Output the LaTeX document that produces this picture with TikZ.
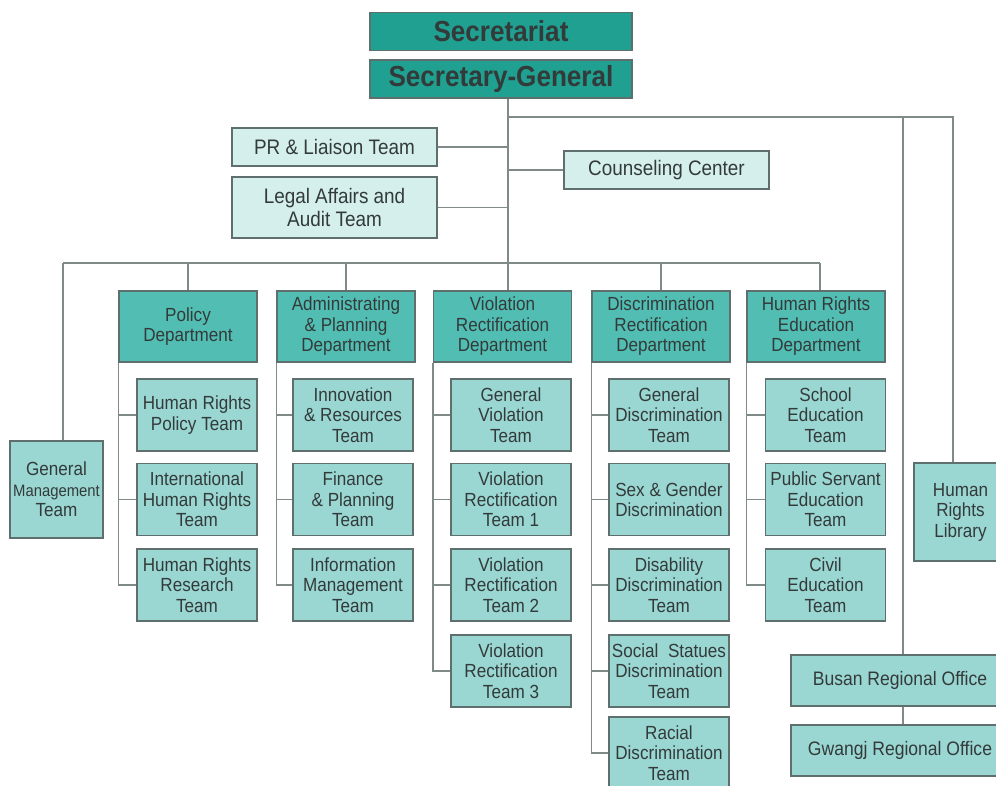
\documentclass[tikz,border=0pt]{standalone}
\usepackage{fontspec}
\setmainfont{Liberation Sans}[FakeStretch=0.9]
\definecolor{darkc}{HTML}{1FA091}
\definecolor{deptc}{HTML}{52BDB3}
\definecolor{teamc}{HTML}{9AD6D2}
\definecolor{lightc}{HTML}{D5EFEC}
\definecolor{bordc}{HTML}{5F6F6E}
\definecolor{linec}{HTML}{7F8A89}
\definecolor{txtc}{HTML}{333B3A}
\tikzset{
 box/.style={draw=bordc, line width=1.2pt, inner sep=0pt, align=center, text=txtc, font=\fontsize{19}{20.5}\selectfont},
 topbox/.style={box, fill=darkc, minimum width=262pt, minimum height=38pt, font=\fontsize{29}{32}\selectfont\bfseries},
 lightbox/.style={box, fill=lightc, minimum width=205pt, font=\fontsize{21}{23}\selectfont},
 deptbox/.style={box, fill=deptc, minimum width=138pt, minimum height=71pt},
 teambox/.style={box, fill=teamc, minimum width=120pt, minimum height=72pt},
 sidebox/.style={box, fill=teamc, minimum width=93pt, minimum height=97pt},
 officebox/.style={box, fill=teamc, minimum width=218pt, minimum height=51pt, font=\fontsize{19.5}{22}\selectfont},
 link/.style={draw=linec, line width=1.5pt},
}
\begin{document}
\begin{tikzpicture}[x=1pt,y=-1pt]
\useasboundingbox (0,0) rectangle (996,786);
\fill[white] (0,0) rectangle (996,786);
\clip (0,0) rectangle (996,786);

% top
\node[topbox] (sec) at (501,31.5) {Secretariat};
\node[topbox] (sg) at (501,79) {Secretary-General};
\node[lightbox, minimum height=38pt] (pr) at (334.5,147) {PR \& Liaison Team};
\node[lightbox, minimum height=61pt] (legal) at (334.5,207.5) {Legal Affairs and\\Audit Team};
\node[lightbox, minimum height=38pt] (cc) at (666.5,170) {Counseling Center};

% departments
\node[sidebox] (gm) at (56.5,489.5) {General\\{\fontsize{16.5}{20.5}\selectfont Management}\\Team};
\node[deptbox] (pol) at (188,326.5) {Policy\\Department};
\node[deptbox] (adm) at (346,326.5) {Administrating\\\& Planning\\Department};
\node[deptbox] (vio) at (502.5,326.5) {Violation\\Rectification\\Department};
\node[deptbox] (dis) at (661,326.5) {Discrimination\\Rectification\\Department};
\node[deptbox] (edu) at (816,326.5) {Human Rights\\Education\\Department};

% teams
\node[teambox] (p1) at (197,415) {Human Rights\\Policy Team};
\node[teambox] (p2) at (197,499.5) {International\\Human Rights\\Team};
\node[teambox] (p3) at (197,585) {Human Rights\\Research\\Team};

\node[teambox] (a1) at (353,415) {Innovation\\\& Resources\\Team};
\node[teambox] (a2) at (353,499.5) {Finance\\\& Planning\\Team};
\node[teambox] (a3) at (353,585) {Information\\Management\\Team};

\node[teambox] (v1) at (511,415) {General\\Violation\\Team};
\node[teambox] (v2) at (511,499.5) {Violation\\Rectification\\Team 1};
\node[teambox] (v3) at (511,585) {Violation\\Rectification\\Team 2};
\node[teambox] (v4) at (511,671) {Violation\\Rectification\\Team 3};

\node[teambox] (d1) at (669,415) {General\\Discrimination\\Team};
\node[teambox] (d2) at (669,499.5) {Sex \& Gender\\Discrimination};
\node[teambox] (d3) at (669,585) {Disability\\Discrimination\\Team};
\node[teambox] (d4) at (669,671) {Social~~Statues\\Discrimination\\Team};
\node[teambox] (d5) at (669,753) {Racial\\Discrimination\\Team};

\node[teambox] (e1) at (825.5,415) {School\\Education\\Team};
\node[teambox] (e2) at (825.5,499.5) {Public Servant\\Education\\Team};
\node[teambox] (e3) at (825.5,585) {Civil\\Education\\Team};

% right side
\node[sidebox, minimum height=98pt] (lib) at (960.5,512) {Human\\Rights\\Library};
\node[officebox] (busan) at (900,680.5) {Busan Regional Office};
\node[officebox] (gw) at (900,750.5) {Gwangj Regional Office};

% trunk and top connectors
\coordinate (tj) at (508,117);
\coordinate (rj) at (903,117);
\draw[link] ([xshift=7pt]sg.south) -- ([xshift=5.5pt]vio.north);
\draw[link] (tj) -| ([xshift=-7.5pt]lib.north);
\draw[link] (rj) -- ([xshift=3pt]busan.north);
\draw[link] ([xshift=3pt]busan.south) -- ([xshift=3pt]gw.north);
\draw[link] (pr.east) -- (pr.east -| tj);
\draw[link] (legal.east) -- (legal.east -| tj);
\draw[link] (cc.west) -- (cc.west -| tj);

% department bar
\coordinate (bl) at (63,263);
\coordinate (br) at (820,263);
\draw[link] (bl) -- (br);
\draw[link] (bl) -- ([xshift=6.5pt]gm.north);
\draw[link] (pol.north) -- (pol.north |- bl);
\draw[link] (adm.north) -- (adm.north |- bl);
\draw[link] (dis.north) -- (dis.north |- bl);
\draw[link] ([xshift=4pt]edu.north) -- ([xshift=4pt]edu.north |- bl);

% spines
\draw[link] (pol.south west) |- (p3.west);
\draw[link] (p1.west -| pol.south west) -- (p1.west);
\draw[link] (p2.west -| pol.south west) -- (p2.west);

\draw[link] (adm.south west) |- (a3.west);
\draw[link] (a1.west -| adm.south west) -- (a1.west);
\draw[link] (a2.west -| adm.south west) -- (a2.west);

\draw[link] (vio.south west) |- (v4.west);
\draw[link] (v1.west -| vio.south west) -- (v1.west);
\draw[link] (v2.west -| vio.south west) -- (v2.west);
\draw[link] (v3.west -| vio.south west) -- (v3.west);

\draw[link] (dis.south west) |- (d5.west);
\draw[link] (d1.west -| dis.south west) -- (d1.west);
\draw[link] (d2.west -| dis.south west) -- (d2.west);
\draw[link] (d3.west -| dis.south west) -- (d3.west);
\draw[link] (d4.west -| dis.south west) -- (d4.west);

\draw[link] (edu.south west) |- (e3.west);
\draw[link] (e1.west -| edu.south west) -- (e1.west);
\draw[link] (e2.west -| edu.south west) -- (e2.west);
\end{tikzpicture}
\end{document}
